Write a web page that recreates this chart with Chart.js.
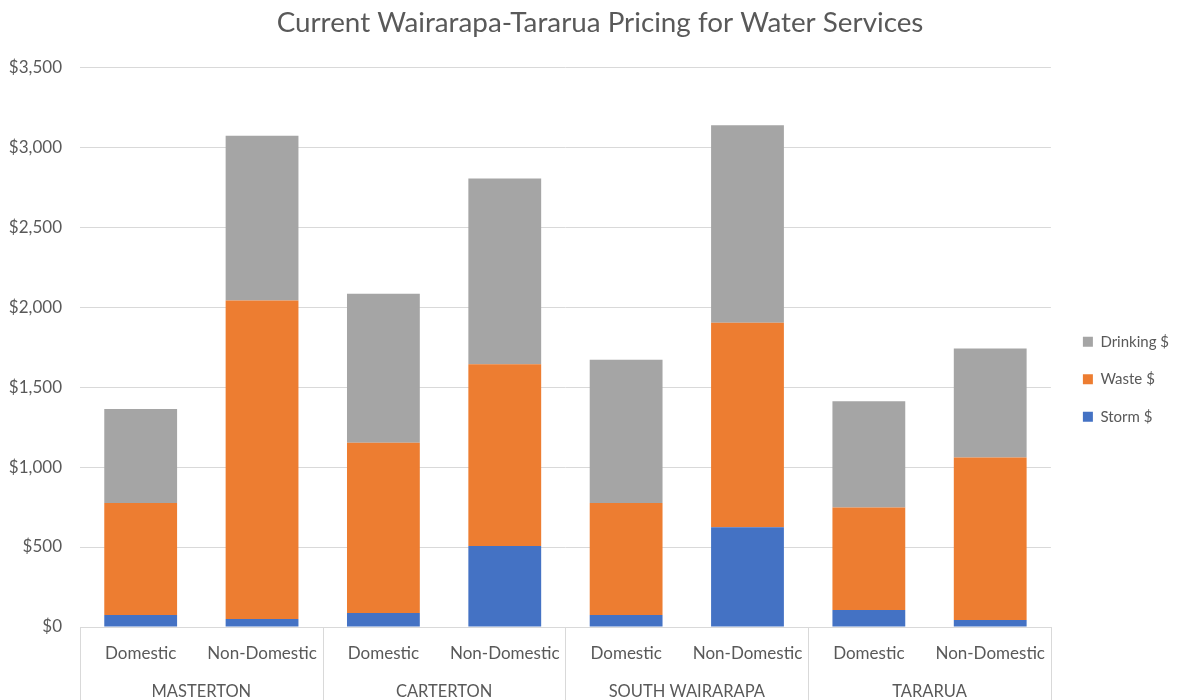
<!DOCTYPE html>
<html><head><meta charset="utf-8">
<script src="https://cdn.jsdelivr.net/npm/chart.js@4"></script>
<style>html,body{margin:0;padding:0;background:#fff}#wrap{width:1187px;height:700px;position:relative}</style>
</head><body><div id="wrap"><canvas id="c"></canvas></div>
<script>
const categories = ['Domestic','Non-Domestic','Domestic','Non-Domestic','Domestic','Non-Domestic','Domestic','Non-Domestic'];
const councils = ['MASTERTON','CARTERTON','SOUTH WAIRARAPA','TARARUA'];
const storm = [75, 50, 88, 507, 75, 624, 106, 44];
const waste = [700, 1991, 1064, 1136, 700, 1278, 641, 1016];
const drinking = [588, 1029, 931, 1160, 895, 1235, 664, 681];
const yMin = 0, yMax = 3500, yStep = 500;
const titleText = 'Current Wairarapa-Tararua Pricing for Water Services';

const TXT = '#595959', GRID = '#d9d9d9', FONT = 'Lato';

const groupPlugin = {
  id: 'groups',
  afterDraw(chart) {
    const {ctx, chartArea, scales: {x}} = chart;
    const n = categories.length, per = n / councils.length;
    const edge = i => i === 0 ? chartArea.left : i === n ? chartArea.right
      : (x.getPixelForValue(i - 1) + x.getPixelForValue(i)) / 2;
    ctx.save();
    ctx.strokeStyle = GRID; ctx.lineWidth = 1;
    for (let g = 0; g <= councils.length; g++) {
      const px = Math.round(edge(g * per)) + 0.5;
      ctx.beginPath(); ctx.moveTo(px, chartArea.bottom); ctx.lineTo(px, chart.height); ctx.stroke();
    }
    ctx.fillStyle = TXT; ctx.font = '16.5px ' + FONT; ctx.textAlign = 'center'; ctx.textBaseline = 'middle';
    councils.forEach((c, g) => {
      const l = edge(g * per), r = edge((g + 1) * per);
      ctx.fillText(c, (l + r) / 2, chartArea.bottom + 65);
    });
    ctx.restore();
  }
};

new Chart(document.getElementById('c'), {
  type: 'bar',
  data: {
    labels: categories,
    datasets: [
      {label: 'Storm $', data: storm, backgroundColor: '#4472C4'},
      {label: 'Waste $', data: waste, backgroundColor: '#ED7D31'},
      {label: 'Drinking $', data: drinking, backgroundColor: '#A5A5A5'}
    ]
  },
  options: {
    responsive: true, maintainAspectRatio: false, animation: false,
    datasets: {bar: {categoryPercentage: 1, barPercentage: 0.6}},
    layout: {padding: {left: 0, right: 8, top: 0, bottom: 0}},
    plugins: {
      title: {display: true, text: '\u2002 ' + titleText,
        color: TXT, font: {family: FONT, size: 27.8, weight: 'normal'}, padding: {top: 6.5, bottom: 27.2}},
      legend: {position: 'right', reverse: true,
        title: {display: true, text: '', font: {size: 12}, padding: {top: 0, bottom: 44}},
        labels: {boxWidth: 10, boxHeight: 10, padding: 22.5, color: TXT, font: {family: FONT, size: 15}}},
      tooltip: {enabled: false}
    },
    scales: {
      x: {stacked: true,
        grid: {display: false, drawTicks: false},
        border: {display: true, color: GRID},
        ticks: {color: TXT, font: {family: FONT, size: 17}, padding: 16, maxRotation: 0, autoSkip: false},
        afterFit: s => { s.height = 73; }},
      y: {stacked: true, min: yMin, max: yMax,
        grid: {color: GRID, drawTicks: false},
        border: {display: false},
        ticks: {stepSize: yStep, color: TXT, font: {family: FONT, size: 17}, padding: 18,
          callback: v => '$' + Number(v).toLocaleString('en-US')},
        afterFit: s => { s.width = 80; }},
      pad: {type: 'linear', position: 'right', display: true,
        grid: {display: false, drawTicks: false}, border: {display: false},
        ticks: {display: false}, afterFit: s => { s.width = 9.5; }}
    }
  },
  plugins: [groupPlugin]
});
</script></body></html>
